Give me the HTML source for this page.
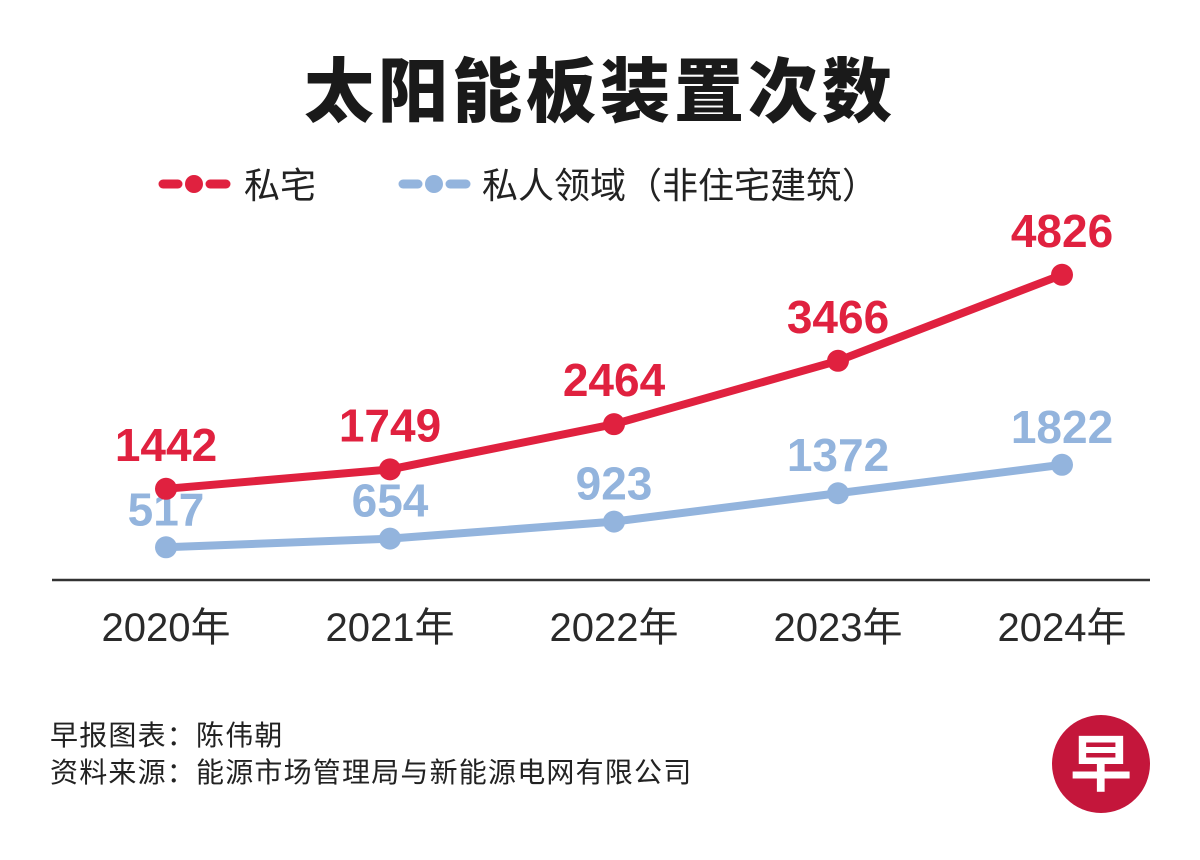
<!DOCTYPE html>
<html><head><meta charset="utf-8"><style>
html,body{margin:0;padding:0;background:#fff;width:1200px;height:860px;overflow:hidden}
svg{display:block;font-family:"Liberation Sans","Noto Sans CJK SC",sans-serif}
</style></head><body>
<svg id="chart" width="1200" height="860" viewBox="0 0 1200 860">
<text x="600" y="116" text-anchor="middle" font-size="70" font-weight="900" letter-spacing="4" fill="#1a1a1a">太阳能板装置次数</text>
<g>
 <g>
  <line x1="163" y1="184" x2="178" y2="184" stroke="#e0213f" stroke-width="9" stroke-linecap="round"/>
  <circle cx="194" cy="184" r="9" fill="#e0213f"/>
  <line x1="210" y1="184" x2="226" y2="184" stroke="#e0213f" stroke-width="9" stroke-linecap="round"/>
  <text x="244" y="198" font-size="36" fill="#222">私宅</text>
 </g>
 <g>
  <line x1="403" y1="184" x2="418" y2="184" stroke="#93b4dd" stroke-width="9" stroke-linecap="round"/>
  <circle cx="434" cy="184" r="9" fill="#93b4dd"/>
  <line x1="450" y1="184" x2="466" y2="184" stroke="#93b4dd" stroke-width="9" stroke-linecap="round"/>
  <text x="482" y="198" font-size="36" fill="#222">私人领域（非住宅建筑）</text>
 </g>
</g>
<line x1="52" y1="580" x2="1150" y2="580" stroke="#333" stroke-width="2.5"/>
<g id="plot"></g>
<g>
 <text x="50" y="745" font-size="28" letter-spacing="1.2" fill="#222">早报图表：陈伟朝</text>
 <text x="50" y="782" font-size="28" letter-spacing="1.2" fill="#222">资料来源：能源市场管理局与新能源电网有限公司</text>
</g>
<g>
 <circle cx="1101" cy="764" r="49" fill="#c4163b"/>
 <text x="1101" y="786" text-anchor="middle" font-size="62" font-weight="bold" fill="#fff">早</text>
</g>
</svg>
<script>
const categories=["2020年","2021年","2022年","2023年","2024年"];
const privateResidence=[1442,1749,2464,3466,4826];
const privateSector=[517,654,923,1372,1822];
const NS="http://www.w3.org/2000/svg";
const plot=document.getElementById('plot');
function xs(i){return 166+i*224;}
function ys(v){return 580-v*0.06324;}
function mk(tag,attrs,parent){const e=document.createElementNS(NS,tag);for(const k in attrs)e.setAttribute(k,attrs[k]);(parent||plot).appendChild(e);return e;}
categories.forEach((c,i)=>{
 const t=mk('text',{x:xs(i),y:641,'text-anchor':'middle','font-size':'40',fill:'#2a2a2a'});
 t.textContent=c;
 
 
});
function series(vals,color,name,off){
 const g=mk('g',{});
 
 
 const pts=vals.map((v,i)=>xs(i)+','+ys(v)).join(' ');
 const pl=mk('polyline',{points:pts,fill:'none',stroke:color,'stroke-width':'8','stroke-linejoin':'round'},g);
 
 
 vals.forEach((v,i)=>{
  const c=mk('circle',{cx:xs(i),cy:ys(v),r:11,fill:color},g);
  
  
  const t=mk('text',{x:xs(i),y:ys(v)-off,'text-anchor':'middle','font-size':'46','font-weight':'bold',fill:color},g);
  t.textContent=v;
  
  
 });
}
series(privateSector,'#93b4dd','private-sector-series',22);
series(privateResidence,'#e0213f','private-residence-series',28);
</script>
</body></html>
